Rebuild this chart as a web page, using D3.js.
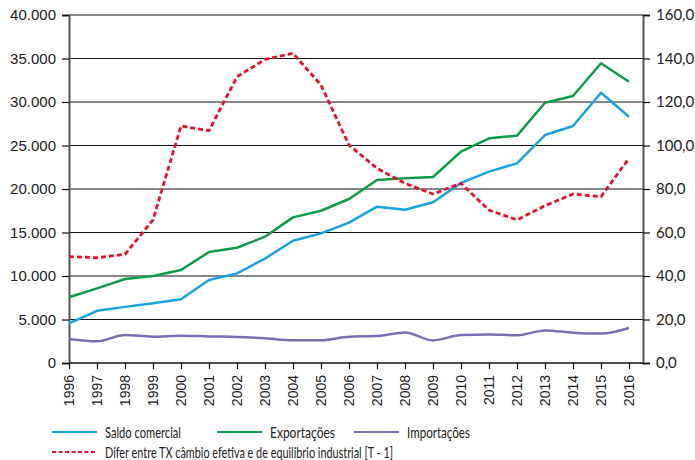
<!DOCTYPE html>
<html><head><meta charset="utf-8">
<script src="https://cdn.jsdelivr.net/npm/d3@7"></script>
<style>
body{margin:0;background:#fff;}
svg{display:block;}
</style></head>
<body><svg id="c" width="695" height="460"></svg>
<script>
const years = [1996,1997,1998,1999,2000,2001,2002,2003,2004,2005,2006,2007,2008,2009,2010,2011,2012,2013,2014,2015,2016];
const saldo = [4550,6000,6450,6880,7320,9550,10300,12000,14060,14900,16130,17970,17620,18470,20700,22000,22950,26200,27240,31070,28310];
const exportacoes = [7550,8580,9650,10000,10690,12760,13250,14520,16740,17500,18850,21030,21230,21380,24300,25830,26130,29920,30690,34450,32330];
const importacoes = [2760,2490,3220,3030,3140,3060,2990,2840,2610,2610,3030,3100,3520,2600,3220,3290,3180,3750,3490,3380,4020];
const difer = [48.9,48.4,50.0,65.8,109.0,106.8,131.6,139.6,142.4,127.8,100.2,89.5,82.6,77.7,82.6,70.3,65.8,72.3,77.7,76.5,94.1];
const leftTicks = [0,5000,10000,15000,20000,25000,30000,35000,40000];
const rightTicks = [0,20,40,60,80,100,120,140,160];
const seriesNames = ["Saldo comercial","Exportações","Importações","Difer entre TX câmbio efetiva e de equilibrio industrial [T - 1]"];
const colors = ["#17a3e0","#0e9a48","#7d6bb3","#e8102a"];

const svg = d3.select("#c");
const L = 69, R = 643, T = 15, B = 363;
const x = d3.scaleLinear().domain([1996, 2016.5]).range([L, R]);
const yL = d3.scaleLinear().domain([0, 40000]).range([B, T]);
const yR = d3.scaleLinear().domain([0, 160]).range([B, T]);

const fmtL = v => v === 0 ? "0" : d3.format(",")(v).replace(/,/g, ".");
const fmtR = v => d3.format(".1f")(v).replace(".", ",");

// gridlines
svg.append("g").selectAll("line").data(leftTicks.filter(d => d > 0)).join("line")
  .attr("x1", L).attr("x2", R).attr("y1", d => yL(d)).attr("y2", d => yL(d))
  .attr("stroke", "#111").attr("stroke-width", 1.2);

// left axis
const gL = svg.append("g").attr("transform", `translate(${L},0)`)
  .call(d3.axisLeft(yL).tickValues(leftTicks).tickFormat(fmtL).tickSize(7).tickPadding(6));
gL.select(".domain").attr("stroke", "#555").attr("stroke-width", 2);
gL.selectAll(".tick line").attr("stroke", "#111").attr("stroke-width", 1.2);
gL.selectAll("text").attr("font-family", "Liberation Sans, Arial, sans-serif").attr("font-size", 15).attr("fill", "#222");

// right axis
const gR = svg.append("g").attr("transform", `translate(${R},0)`)
  .call(d3.axisRight(yR).tickValues(rightTicks).tickFormat(fmtR).tickSize(7).tickPadding(6));
gR.select(".domain").attr("stroke", "#555").attr("stroke-width", 2);
gR.selectAll(".tick line").attr("stroke", "#111").attr("stroke-width", 1.2);
gR.selectAll("text").attr("font-family", "Lato, sans-serif").attr("font-size", 15).attr("fill", "#222");

// bottom axis
const gB = svg.append("g").attr("transform", `translate(0,${B})`)
  .call(d3.axisBottom(x).tickValues(years).tickFormat(d3.format("d")).tickSize(6).tickPadding(4));
gB.select(".domain").attr("d", `M${L},0H${R}`).attr("stroke", "#111").attr("stroke-width", 1.5);
gB.selectAll(".tick line").attr("stroke", "#111").attr("stroke-width", 1.2);
gB.selectAll("text").attr("font-family", "Liberation Sans, Arial, sans-serif").attr("font-size", 14).attr("fill", "#222")
  .attr("transform", "rotate(-90)").attr("text-anchor", "end").attr("dy", "0.35em").attr("x", -12).attr("y", 0);

// lines
const mk = (ys, curve) => d3.line().x((d, i) => x(years[i])).y(d => ys(d)).curve(curve);
const g = svg.append("g").attr("fill", "none").attr("stroke-linejoin", "round");
g.append("path").attr("d", mk(yL, d3.curveMonotoneX)(importacoes)).attr("stroke", colors[2]).attr("stroke-width", 2.5);
g.append("path").attr("d", mk(yL, d3.curveLinear)(saldo)).attr("stroke", colors[0]).attr("stroke-width", 2.5);
g.append("path").attr("d", mk(yL, d3.curveLinear)(exportacoes)).attr("stroke", colors[1]).attr("stroke-width", 2.5);
g.append("path").attr("d", mk(yR, d3.curveLinear)(difer)).attr("stroke", colors[3]).attr("stroke-width", 2.8).attr("stroke-dasharray", "5,3");

// legend
const leg = [
  {name: seriesNames[0], c: colors[0], x: 52, y: 432, dash: null, w: 76},
  {name: seriesNames[1], c: colors[1], x: 217, y: 432, dash: null, w: 65},
  {name: seriesNames[2], c: colors[2], x: 354, y: 432, dash: null, w: 63},
  {name: seriesNames[3], c: colors[3], x: 52, y: 452, dash: "4,2.5", w: 288}
];
const lg = svg.append("g");
leg.forEach(d => {
  lg.append("line").attr("x1", d.x).attr("x2", d.x + 45).attr("y1", d.y).attr("y2", d.y)
    .attr("stroke", d.c).attr("stroke-width", 2.2).attr("stroke-dasharray", d.dash);
  lg.append("text").attr("x", d.x + 53).attr("y", d.y + 6).text(d.name)
    .attr("font-family", "Lato, sans-serif").attr("font-size", 16).attr("fill", "#222")
    .attr("textLength", d.w).attr("lengthAdjust", "spacingAndGlyphs");
});
</script></body></html>
